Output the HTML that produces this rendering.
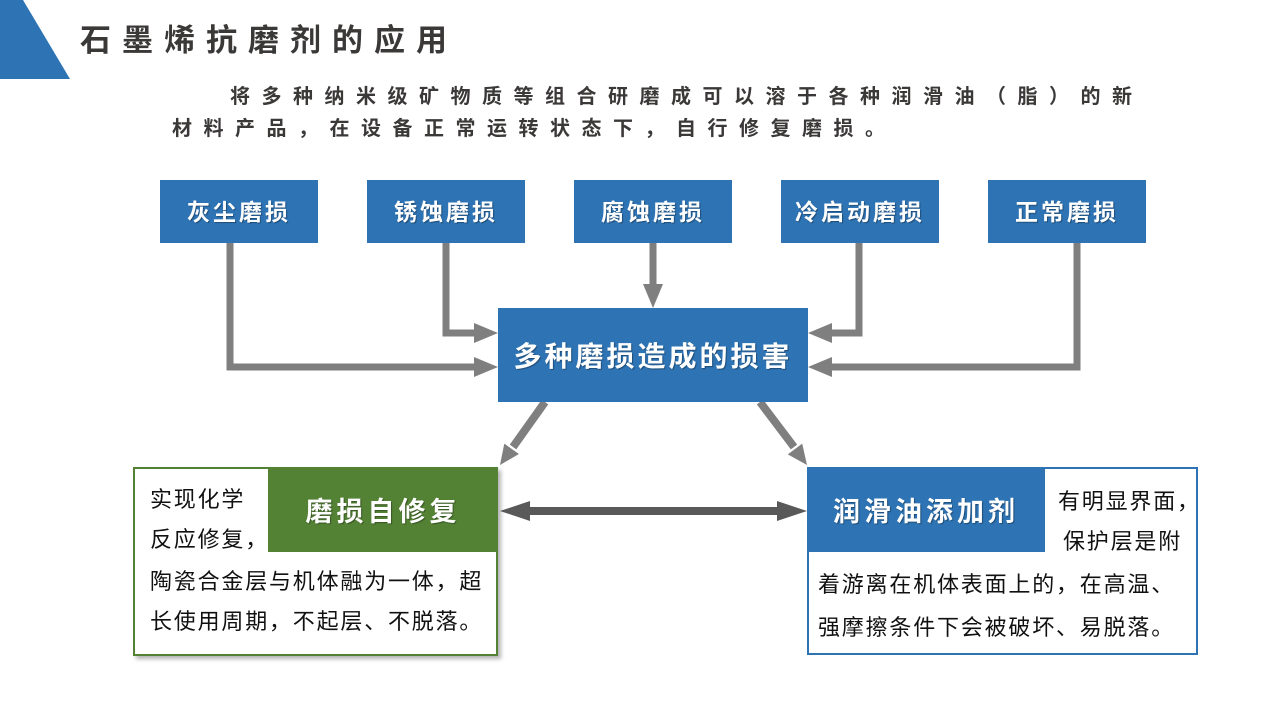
<!DOCTYPE html>
<html><head><meta charset="utf-8">
<style>
html,body{margin:0;padding:0;}
body{width:1280px;height:720px;position:relative;overflow:hidden;background:#fff;font-family:"Liberation Sans","Noto Sans CJK SC",sans-serif;}
.abs{position:absolute;white-space:nowrap;}
.tb{position:absolute;top:180px;width:158px;height:63px;background:#2e74b5;color:#fff;font-weight:700;font-size:23px;line-height:65px;text-align:center;letter-spacing:3px;text-shadow:1px 1px 1px rgba(0,0,0,0.35);}
.txt{position:absolute;white-space:nowrap;font-size:22px;letter-spacing:1.8px;color:#111;line-height:40px;}
</style></head>
<body>
<svg width="1280" height="720" style="position:absolute;left:0;top:0">
  <polygon points="0,0 23,0 70,79 0,79" fill="#2e74b5"/>
  <g stroke="#7f7f7f" stroke-width="7" fill="none" stroke-linejoin="miter">
    <polyline points="230,243 230,367 478,367"/>
    <polyline points="446,243 446,333 478,333"/>
    <polyline points="653,243 653,288"/>
    <polyline points="859,243 859,333 828,333"/>
    <polyline points="1077,243 1077,367 828,367"/>
    <line x1="545" y1="402" x2="513" y2="447" stroke-width="8"/>
    <line x1="760" y1="402" x2="794" y2="447" stroke-width="8"/>
  </g>
  <g fill="#7f7f7f">
    <polygon points="498,367 474,357 474,377"/>
    <polygon points="498,333 474,323 474,343"/>
    <polygon points="653,308 643,284 663,284"/>
    <polygon points="808,333 832,323 832,343"/>
    <polygon points="808,367 832,357 832,377"/>
    <polygon points="500,465 518.9,454 504.3,443.6"/>
    <polygon points="807,465 802.2,443.6 787.8,454.4"/>
  </g>
  <line x1="525" y1="511" x2="782" y2="511" stroke="#595959" stroke-width="8"/>
  <polygon points="500,511 530,501 530,521" fill="#595959"/>
  <polygon points="807,511 777,501 777,521" fill="#595959"/>
</svg>

<div class="abs" style="left:80px;top:19px;font-size:31px;font-weight:700;letter-spacing:11px;color:#3b3838;line-height:44px;">石墨烯抗磨剂的应用</div>

<div class="abs" style="left:230px;top:82px;font-size:20px;font-weight:700;letter-spacing:11.5px;color:#3b3838;line-height:30px;">将多种纳米级矿物质等组合研磨成可以溶于各种润滑油（脂）的新</div>
<div class="abs" style="left:172px;top:114px;font-size:20px;font-weight:700;letter-spacing:11.5px;color:#3b3838;line-height:30px;">材料产品，在设备正常运转状态下，自行修复磨损。</div>

<div class="tb" style="left:160px;">灰尘磨损</div>
<div class="tb" style="left:367px;">锈蚀磨损</div>
<div class="tb" style="left:574px;">腐蚀磨损</div>
<div class="tb" style="left:781px;">冷启动磨损</div>
<div class="tb" style="left:988px;">正常磨损</div>

<div class="abs" style="left:498px;top:308px;width:310px;height:94px;background:#2e74b5;color:#fff;font-weight:700;font-size:28px;letter-spacing:3px;line-height:98px;text-align:center;text-shadow:1px 1px 1px rgba(0,0,0,0.35);">多种磨损造成的损害</div>

<!-- left box -->
<div class="abs" style="left:133px;top:467px;width:361px;height:185px;border:2px solid #548235;box-shadow:3px 3px 4px rgba(0,0,0,0.3);background:#fff;"></div>
<div class="abs" style="left:268px;top:467px;width:230px;height:85px;background:#548235;color:#fff;font-weight:700;font-size:27px;letter-spacing:4px;line-height:90px;text-align:center;text-shadow:1px 1px 1px rgba(0,0,0,0.35);">磨损自修复</div>
<div class="txt" style="left:150px;top:480px;">实现化学</div>
<div class="txt" style="left:150px;top:520px;">反应修复，</div>
<div class="txt" style="left:150px;top:562px;">陶瓷合金层与机体融为一体，超</div>
<div class="txt" style="left:150px;top:602px;">长使用周期，不起层、不脱落。</div>

<!-- right box -->
<div class="abs" style="left:807px;top:467px;width:387px;height:184px;border:2px solid #2e74b5;background:#fff;"></div>
<div class="abs" style="left:807px;top:467px;width:238px;height:85px;background:#2e74b5;color:#fff;font-weight:700;font-size:27px;letter-spacing:4px;line-height:90px;text-align:center;text-shadow:1px 1px 1px rgba(0,0,0,0.35);">润滑油添加剂</div>
<div class="txt" style="left:1058px;top:482px;">有明显界面，</div>
<div class="txt" style="left:1063px;top:522px;">保护层是附</div>
<div class="txt" style="left:818px;top:565px;">着游离在机体表面上的，在高温、</div>
<div class="txt" style="left:818px;top:608px;">强摩擦条件下会被破坏、易脱落。</div>
</body></html>
